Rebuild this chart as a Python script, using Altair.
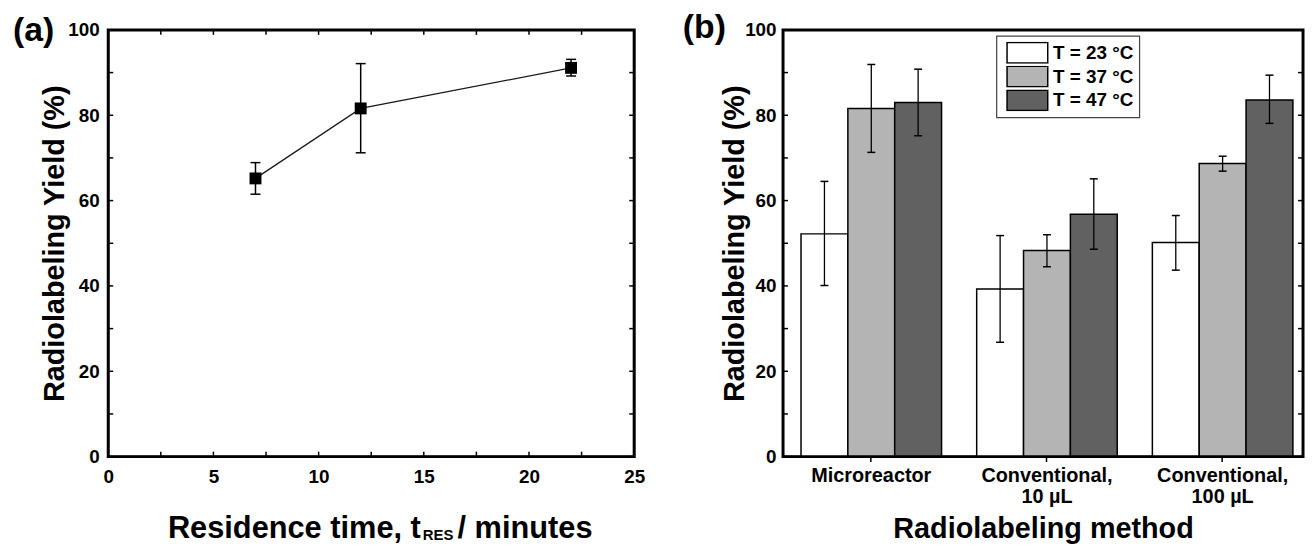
import altair as alt
import pandas as pd

# ---------------- data ----------------
# Panel (a): residence time vs radiolabeling yield
RES_TIME = [7, 12, 22]
YIELD_A = [65.2, 81.6, 91.1]
YIELD_A_LO = [61.5, 71.2, 89.2]
YIELD_A_HI = [68.9, 92.1, 93.1]

X_TICK_LABELS_A = [0, 5, 10, 15, 20, 25]
X_MINOR_A = [0, 2.5, 5, 7.5, 10, 12.5, 15, 17.5, 20, 22.5, 25]
Y_TICK_LABELS = [0, 20, 40, 60, 80, 100]
Y_MINOR = [0, 10, 20, 30, 40, 50, 60, 70, 80, 90, 100]

# Panel (b): yields by method and temperature
METHODS = ["Microreactor", "Conventional, 10 µL", "Conventional, 100 µL"]
TEMPS = ["T = 23 °C", "T = 37 °C", "T = 47 °C"]
YIELD_23 = [52.2, 39.3, 50.2]
YIELD_37 = [81.6, 48.3, 68.7]
YIELD_47 = [83.0, 56.8, 83.6]
LO_23 = [40.1, 26.8, 43.7]
HI_23 = [64.5, 51.8, 56.5]
LO_37 = [71.3, 44.5, 66.9]
HI_37 = [91.9, 52.0, 70.4]
LO_47 = [75.2, 48.6, 78.1]
HI_47 = [90.8, 65.1, 89.4]

PANEL_LABELS = ["(a)", "(b)"]
TITLE_A_PARTS = ["Residence time, t", "RES", "/ minutes"]

FILLS = ["#ffffff", "#b4b4b4", "#616161"]
FONT = "Liberation Sans"

df_a = pd.DataFrame({"t": RES_TIME, "y": YIELD_A, "lo": YIELD_A_LO, "hi": YIELD_A_HI})
rows = []
for temp, ys_, los, his in zip(TEMPS, [YIELD_23, YIELD_37, YIELD_47],
                               [LO_23, LO_37, LO_47], [HI_23, HI_37, HI_47]):
    for m, v, lo, hi in zip(METHODS, ys_, los, his):
        rows.append({"method": m, "temp": temp, "yield": v, "lo": lo, "hi": hi})
df_b = pd.DataFrame(rows)

df_xminor = pd.DataFrame({"v": X_MINOR_A})
df_yminor = pd.DataFrame({"v": Y_MINOR})
df_one = pd.DataFrame({"k": [0]})

W_A, W_B, H = 530, 524, 430
TB = 512  # x-title baseline, measured from the plot top

xs_a = alt.Scale(domain=[0, 25], nice=False, zero=False)
ys = alt.Scale(domain=[0, 100], nice=False)

lab = dict(labelFontWeight="bold", labelColor="black", labelFont=FONT,
           labelFlush=False, labelOverlap=False, grid=False, domain=False)
ttl = dict(titleFontSize=29, titleFontWeight="bold", titleFont=FONT, titleColor="black")


def frame(w):
    return alt.Chart(df_one).mark_rect(fill=None, fillOpacity=0, stroke="#000000", strokeWidth=3,
                                       strokeOpacity=1, opacity=1).encode(
        x=alt.value(0), x2=alt.value(w), y=alt.value(0), y2=alt.value(H))


# ---------------- panel (a) ----------------
base_a = alt.Chart(df_a)
line_a = base_a.mark_line(color="#1a1a1a", strokeWidth=1.3).encode(
    x=alt.X("t:Q", scale=xs_a, axis=alt.Axis(values=X_TICK_LABELS_A, ticks=False, labelPadding=11,
                                              labelFontSize=19, title=None, **lab)),
    y=alt.Y("y:Q", scale=ys, axis=alt.Axis(values=Y_TICK_LABELS, ticks=False, labelPadding=9,
                                            labelFontSize=19,
                                            title="Radiolabeling Yield (%)", titleX=-54, titleY=H / 2,
                                            titleBaseline="middle", **ttl, **lab)),
)
err_a = base_a.mark_rule(color="black", strokeWidth=1.5).encode(x="t:Q", y="lo:Q", y2="hi:Q")
cap_lo_a = base_a.mark_tick(color="black", orient="horizontal", size=10, thickness=1.5, opacity=1).encode(
    x="t:Q", y="lo:Q")
cap_hi_a = base_a.mark_tick(color="black", orient="horizontal", size=10, thickness=1.5, opacity=1).encode(
    x="t:Q", y="hi:Q")
pts_a = base_a.mark_square(color="black", size=144, opacity=1).encode(x="t:Q", y="y:Q")

tk = dict(color="black", strokeWidth=1.5, opacity=1)
xt_bot = alt.Chart(df_xminor).mark_rule(**tk).encode(x=alt.X("v:Q", scale=xs_a), y=alt.value(H), y2=alt.value(H - 5))
xt_top = alt.Chart(df_xminor).mark_rule(**tk).encode(x=alt.X("v:Q", scale=xs_a), y=alt.value(0), y2=alt.value(5))
yt_l_a = alt.Chart(df_yminor).mark_rule(**tk).encode(y=alt.Y("v:Q", scale=ys), x=alt.value(0), x2=alt.value(5))
yt_r_a = alt.Chart(df_yminor).mark_rule(**tk).encode(y=alt.Y("v:Q", scale=ys), x=alt.value(W_A), x2=alt.value(W_A - 5))

lbl_a = alt.Chart(pd.DataFrame({"label": [PANEL_LABELS[0]]})).mark_text(
    align="left", baseline="alphabetic", fontSize=34, fontWeight="bold", font=FONT, color="black"
).encode(text="label:N", x=alt.value(-96), y=alt.value(11))

tdf = pd.DataFrame({"p1": [TITLE_A_PARTS[0]], "p2": [TITLE_A_PARTS[1]], "p3": [TITLE_A_PARTS[2]]})
tt = dict(baseline="alphabetic", fontWeight="bold", font=FONT, color="black")
title1 = alt.Chart(tdf).mark_text(align="right", fontSize=31, **tt).encode(
    text="p1:N", x=alt.value(315), y=alt.value(TB))
title2 = alt.Chart(tdf).mark_text(align="left", fontSize=15, **tt).encode(
    text="p2:N", x=alt.value(317), y=alt.value(TB + 2))
title3 = alt.Chart(tdf).mark_text(align="left", fontSize=31, **tt).encode(
    text="p3:N", x=alt.value(352), y=alt.value(TB))

panel_a = alt.layer(
    line_a, err_a, cap_lo_a, cap_hi_a, pts_a, xt_bot, xt_top, yt_l_a, yt_r_a, frame(W_A),
    lbl_a, title1, title2, title3
).properties(width=W_A, height=H)

# ---------------- panel (b) ----------------
label_expr = ("indexof(datum.label, ',') > 0 ? [substring(datum.label, 0, indexof(datum.label, ',') + 1), "
              "substring(datum.label, indexof(datum.label, ',') + 2)] : datum.label")

xb = alt.X("method:N", sort=METHODS,
           scale=alt.Scale(paddingInner=0.2, paddingOuter=0.08, align=0.64),
           axis=alt.Axis(title="Radiolabeling method", labelExpr=label_expr, labelAngle=0,
                         ticks=True, tickSize=5, tickWidth=1.5, tickColor="black",
                         labelPadding=4, labelFontSize=20, labelLineHeight=21, labelBaseline="top",
                         titleY=82, titleBaseline="alphabetic", **ttl, **lab))
xo = alt.XOffset("temp:N", sort=TEMPS, scale=alt.Scale(paddingInner=0, paddingOuter=0))

base_b = alt.Chart(df_b)
bars = base_b.mark_bar(stroke="black", strokeWidth=1.5).encode(
    x=xb, xOffset=xo,
    y=alt.Y("yield:Q", scale=ys, axis=alt.Axis(values=Y_TICK_LABELS, ticks=False, labelPadding=7,
                                                labelFontSize=19,
                                                title="Radiolabeling Yield (%)", titleX=-49, titleY=H / 2,
                                                titleBaseline="middle", **ttl, **lab)),
    fill=alt.Fill("temp:N", sort=TEMPS, scale=alt.Scale(domain=TEMPS, range=FILLS),
                  legend=alt.Legend(title=None, orient="none", legendX=895, legendY=6,
                                    symbolType="M-1,-1H3V1H-1Z", symbolSize=420, symbolOffset=4,
                                    symbolStrokeColor="black", symbolStrokeWidth=1.5,
                                    labelFontSize=19, labelFontWeight="bold", labelColor="black",
                                    labelFont=FONT, labelOffset=25, rowPadding=2, clipHeight=22,
                                    padding=6, fillColor="white", strokeColor="#444")),
)
err_b = base_b.mark_rule(color="black", strokeWidth=1.3, opacity=1).encode(
    x=alt.X("method:N", sort=METHODS), xOffset=xo, y="lo:Q", y2="hi:Q")
cap_lo_b = base_b.mark_tick(color="black", size=8, thickness=1.5, opacity=1).encode(
    x=alt.X("method:N", sort=METHODS), xOffset=xo, y="lo:Q")
cap_hi_b = base_b.mark_tick(color="black", size=8, thickness=1.5, opacity=1).encode(
    x=alt.X("method:N", sort=METHODS), xOffset=xo, y="hi:Q")

yt_l_b = alt.Chart(df_yminor).mark_rule(**tk).encode(y=alt.Y("v:Q", scale=ys), x=alt.value(0), x2=alt.value(5))
yt_r_b = alt.Chart(df_yminor).mark_rule(**tk).encode(y=alt.Y("v:Q", scale=ys), x=alt.value(W_B), x2=alt.value(W_B - 5))

lbl_b = alt.Chart(pd.DataFrame({"label": [PANEL_LABELS[1]]})).mark_text(
    align="left", baseline="alphabetic", fontSize=34, fontWeight="bold", font=FONT, color="black"
).encode(text="label:N", x=alt.value(-101), y=alt.value(8))

panel_b = alt.layer(bars, err_b, cap_lo_b, cap_hi_b, yt_l_b, yt_r_b, frame(W_B), lbl_b).properties(
    width=W_B, height=H)

chart = alt.hconcat(panel_a, panel_b, spacing=150, bounds="flush").properties(
    padding={"left": 4, "top": 0, "right": 0, "bottom": 0}
).configure(
    font=FONT, background="white"
).configure_view(stroke="black", strokeWidth=2).configure_legend(strokeWidth=1.2)

chart.save("out.html", embed_options={"renderer": "svg", "actions": False})
